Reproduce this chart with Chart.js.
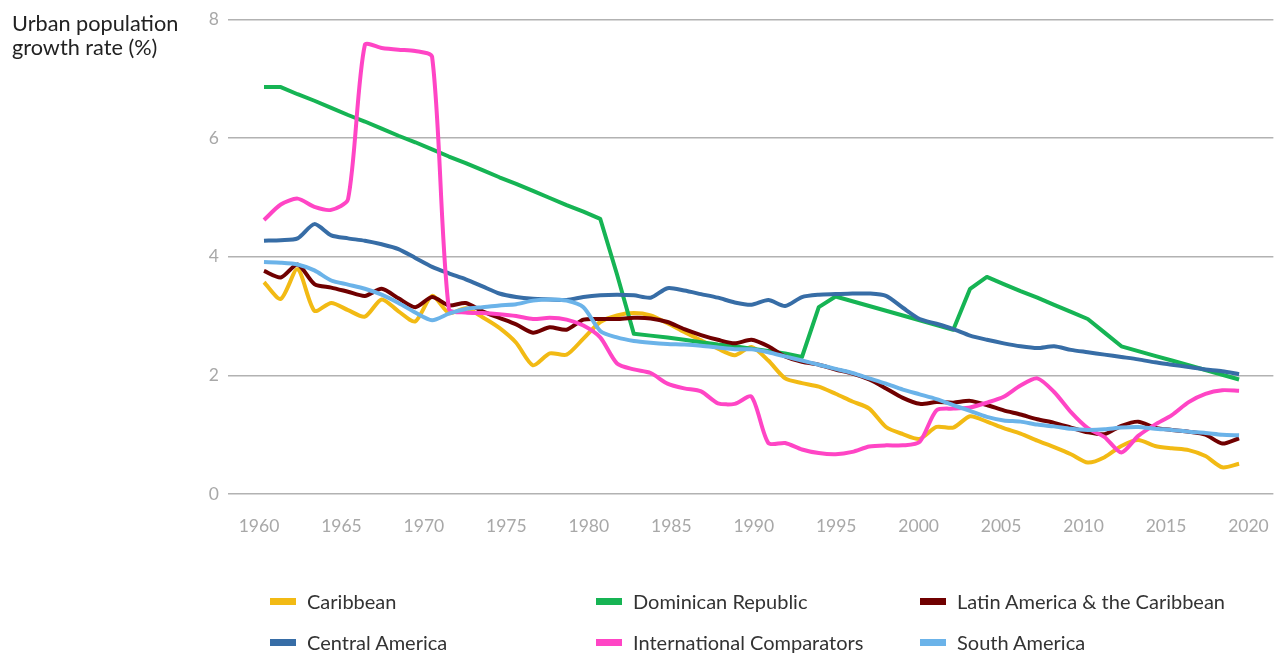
<!DOCTYPE html>
<html lang="en">
<head>
<meta charset="UTF-8" />
<title>Urban population growth rate</title>
<script src="https://cdn.jsdelivr.net/npm/chart.js"></script>
<style>
  html, body { margin: 0; padding: 0; background: #fff; }
  body { width: 1283px; height: 653px; position: relative; overflow: hidden; font-family: Lato, 'Noto Sans', sans-serif; }
  #chart { position: absolute; left: 0; top: 0; }
  .axis-title { position: absolute; left: 12px; top: 11px; font-size: 21.7px; line-height: 24px; color: #222; }
  .item { position: absolute; height: 24px; display: flex; align-items: center; font-size: 20px; color: #333; white-space: nowrap; }
  .swatch { width: 26px; height: 7px; margin-right: 11px; }
</style>
</head>
<body>
  <canvas id="chart" width="1283" height="653"></canvas>
  <div class="axis-title">Urban population<br>growth rate (%)</div>
  <div id="legend"></div>

<script>
  // annual points, 1960 onwards
  const years = [];
  for (let y = 1960; y <= 2018; y++) years.push(y);

  const tickYears = [1960, 1965, 1970, 1975, 1980, 1985, 1990, 1995, 2000, 2005, 2010, 2015, 2020];
  const yTicks = [0, 2, 4, 6, 8];

  const caribbean = [3.57, 3.29, 3.79, 3.09, 3.22, 3.10, 2.99, 3.28, 3.08, 2.91,
    3.34, 3.05, 3.13, 2.98, 2.80, 2.55, 2.17, 2.37, 2.35, 2.62,
    2.90, 3.01, 3.05, 3.01, 2.88, 2.73, 2.59, 2.45, 2.34, 2.48,
    2.25, 1.95, 1.87, 1.81, 1.69, 1.56, 1.44, 1.13, 1.01, 0.93,
    1.13, 1.12, 1.31, 1.22, 1.11, 1.02, 0.90, 0.79, 0.67, 0.53,
    0.62, 0.81, 0.91, 0.81, 0.77, 0.74, 0.64, 0.45, 0.51];

  const dominicanRepublic = [6.86, 6.86, 6.74, 6.63, 6.51, 6.39, 6.28, 6.16, 6.04, 5.93,
    5.81, 5.69, 5.58, 5.46, 5.34, 5.23, 5.11, 4.99, 4.87, 4.76,
    4.64, 3.70, 2.70, 2.67, 2.64, 2.60, 2.56, 2.52, 2.49, 2.45,
    2.41, 2.37, 2.31, 3.15, 3.33, 3.25, 3.17, 3.09, 3.01, 2.93,
    2.85, 2.77, 3.46, 3.66, 3.54, 3.42, 3.31, 3.19, 3.07, 2.95,
    2.72, 2.49, 2.41, 2.33, 2.25, 2.17, 2.09, 2.01, 1.93];

  const latinAmerica = [3.76, 3.65, 3.87, 3.54, 3.48, 3.41, 3.34, 3.46, 3.30, 3.15,
    3.32, 3.18, 3.22, 3.08, 2.97, 2.86, 2.72, 2.81, 2.77, 2.94,
    2.95, 2.95, 2.97, 2.96, 2.90, 2.78, 2.68, 2.60, 2.54, 2.60,
    2.49, 2.32, 2.23, 2.18, 2.10, 2.03, 1.93, 1.78, 1.62, 1.52,
    1.55, 1.54, 1.57, 1.50, 1.41, 1.34, 1.26, 1.20, 1.12, 1.04,
    1.01, 1.15, 1.22, 1.12, 1.08, 1.05, 1.00, 0.85, 0.94];

  const centralAmerica = [4.27, 4.28, 4.31, 4.55, 4.36, 4.31, 4.27, 4.21, 4.13, 3.98,
    3.83, 3.72, 3.62, 3.50, 3.38, 3.32, 3.29, 3.28, 3.27, 3.32,
    3.35, 3.36, 3.35, 3.31, 3.47, 3.43, 3.37, 3.31, 3.23, 3.19,
    3.27, 3.17, 3.32, 3.36, 3.37, 3.38, 3.38, 3.34, 3.14, 2.95,
    2.87, 2.78, 2.67, 2.60, 2.54, 2.49, 2.46, 2.49, 2.43, 2.39,
    2.35, 2.31, 2.27, 2.22, 2.18, 2.14, 2.10, 2.07, 2.02];

  const internationalComparators = [4.62, 4.88, 4.98, 4.84, 4.79, 4.97, 7.57, 7.52, 7.49, 7.47,
    7.37, 3.12, 3.06, 3.05, 3.03, 3.00, 2.95, 2.97, 2.94, 2.84,
    2.64, 2.20, 2.10, 2.04, 1.86, 1.78, 1.73, 1.53, 1.52, 1.64,
    0.86, 0.86, 0.75, 0.69, 0.67, 0.71, 0.80, 0.82, 0.82, 0.88,
    1.41, 1.44, 1.46, 1.54, 1.64, 1.83, 1.95, 1.72, 1.38, 1.11,
    0.96, 0.70, 0.98, 1.17, 1.33, 1.55, 1.69, 1.75, 1.74];

  const southAmerica = [3.91, 3.90, 3.87, 3.77, 3.60, 3.53, 3.46, 3.36, 3.22, 3.06,
    2.93, 3.04, 3.12, 3.15, 3.18, 3.20, 3.26, 3.28, 3.26, 3.15,
    2.75, 2.64, 2.58, 2.55, 2.53, 2.52, 2.50, 2.47, 2.44, 2.44,
    2.39, 2.32, 2.25, 2.18, 2.11, 2.04, 1.95, 1.86, 1.76, 1.68,
    1.60, 1.50, 1.40, 1.30, 1.24, 1.22, 1.17, 1.14, 1.10, 1.08,
    1.09, 1.12, 1.13, 1.10, 1.08, 1.05, 1.03, 1.00, 0.99];

  const series = [
    { label: 'Caribbean', data: caribbean, color: '#F2BA14' },
    { label: 'Dominican Republic', data: dominicanRepublic, color: '#16B454', straight: true },
    { label: 'Latin America & the Caribbean', data: latinAmerica, color: '#700000' },
    { label: 'Central America', data: centralAmerica, color: '#376DA6' },
    { label: 'International Comparators', data: internationalComparators, color: '#FF45C5' },
    { label: 'South America', data: southAmerica, color: '#6BB3E9' }
  ];

  const fontFamily = "Lato, 'Noto Sans', sans-serif";

  new Chart(document.getElementById('chart'), {
    type: 'line',
    data: {
      datasets: series.map((s, i) => ({
        label: s.label,
        data: s.data.map((v, k) => ({ x: years[k], y: v })),
        borderColor: s.color,
        backgroundColor: s.color,
        borderWidth: 4,
        pointRadius: 0,
        tension: s.straight ? 0 : 0.25,
        borderJoinStyle: 'round',
        order: series.length - i,
        xAxisID: 'x'
      }))
    },
    options: {
      responsive: false,
      animation: false,
      devicePixelRatio: 1,
      layout: { padding: { left: 0, right: 8, top: 18, bottom: 0 } },
      plugins: { legend: { display: false }, tooltip: { enabled: false } },
      scales: {
        x: {
          type: 'linear',
          display: false,
          min: 1957.86,
          max: 2020.04
        },
        years: {
          type: 'linear',
          position: 'bottom',
          min: 1958.12,
          max: 2021.51,
          afterBuildTicks: s => { s.ticks = tickYears.map(v => ({ value: v })); },
          afterFit: s => { s.height = 159; },
          grid: { display: false },
          border: { display: false },
          ticks: {
            color: '#a8a8a8',
            font: { family: fontFamily, size: 17.5 },
            padding: 14,
            maxRotation: 0,
            autoSkip: false,
            callback: v => String(v)
          }
        },
        y: {
          min: 0,
          max: 8,
          afterBuildTicks: s => { s.ticks = yTicks.map(v => ({ value: v })); },
          afterFit: s => { s.width = 228; },
          grid: { color: '#b2b2b2', lineWidth: 1.5, drawTicks: false },
          border: { display: false },
          ticks: {
            color: '#a8a8a8',
            font: { family: fontFamily, size: 17.5 },
            padding: 9
          }
        }
      }
    }
  });

  // legend laid out as a 3 x 2 grid, like the original
  const legend = document.getElementById('legend');
  const colX = [270, 596, 920];
  const rowY = [589, 630];
  series.forEach((s, i) => {
    const item = document.createElement('div');
    item.className = 'item';
    item.style.left = colX[i % 3] + 'px';
    item.style.top = rowY[Math.floor(i / 3)] + 'px';
    const sw = document.createElement('span');
    sw.className = 'swatch';
    sw.style.background = s.color;
    const txt = document.createElement('span');
    txt.textContent = s.label;
    item.appendChild(sw);
    item.appendChild(txt);
    legend.appendChild(item);
  });
</script>
</body>
</html>
